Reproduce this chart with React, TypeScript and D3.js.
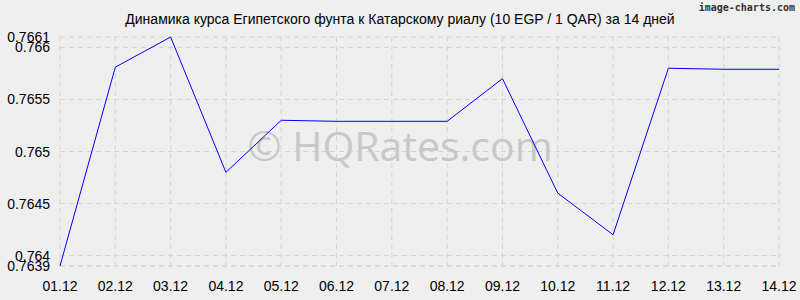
import React from "react";
import * as d3 from "d3";

const dates = ["01.12","02.12","03.12","04.12","05.12","06.12","07.12","08.12","09.12","10.12","11.12","12.12","13.12","14.12"];
const values = [0.7639,0.76581,0.7661,0.7648,0.7653,0.76529,0.76529,0.76529,0.7657,0.7646,0.7642,0.7658,0.76579,0.76579];
const yTicks = [0.7639,0.764,0.7645,0.765,0.7655,0.766,0.7661];
const yTickLabels = ["0.7639","0.764","0.7645","0.765","0.7655","0.766","0.7661"];
const title = "Динамика курса Египетского фунта к Катарскому риалу (10 EGP / 1 QAR) за 14 дней";

export default function App() {
  const W = 800, H = 300;
  const x = d3.scalePoint<string>().domain(dates).range([60, 779]);
  const y = d3.scaleLinear().domain([0.7639, 0.7661]).range([266, 37]);
  const line = d3.line<number>().x((_, i) => x(dates[i])!).y(d => y(d));
  const font = "'Liberation Sans', Arial, sans-serif";
  return (
    <svg width={W} height={H} style={{ position: "absolute", left: 0, top: 0 }}>
      <rect width={W} height={H} fill="#efefef" />
      {yTicks.map((t, i) => (
        <line key={"h" + i} x1={60} x2={779} y1={y(t)} y2={y(t)} stroke={i === 0 ? "#c8c8c8" : "#d4d4d4"} strokeDasharray="5,4" />
      ))}
      {dates.map((d, i) => (
        <line key={"v" + i} x1={x(d)} x2={x(d)} y1={37} y2={266} stroke="#d4d4d4" strokeDasharray="5,4" />
      ))}
      <text x={400} y={150} fontFamily="'Open Sans', 'DejaVu Sans', sans-serif" fontSize={41} fill="#c8c8c8" textAnchor="middle" dominantBaseline="middle">© HQRates.com</text>
      <path d={line(values)!} fill="none" stroke="#0000ff" strokeWidth={1} />
      {yTicks.map((t, i) => (
        <text key={"yl" + i} x={50} y={y(t) + 5} fontFamily={font} fontSize={14} textAnchor="end" fill="#000">{yTickLabels[i]}</text>
      ))}
      {dates.map((d, i) => (
        <text key={"xl" + i} x={x(d)} y={291} fontFamily={font} fontSize={14} textAnchor="middle" fill="#000">{d}</text>
      ))}
      <text x={400} y={24} fontFamily={font} fontSize={14} textAnchor="middle" fill="#000">{title}</text>
      <text x={795} y={11} fontFamily="'DejaVu Sans Mono', monospace" fontSize={10} fontWeight="bold" textAnchor="end" fill="#333">image-charts.com</text>
    </svg>
  );
}
